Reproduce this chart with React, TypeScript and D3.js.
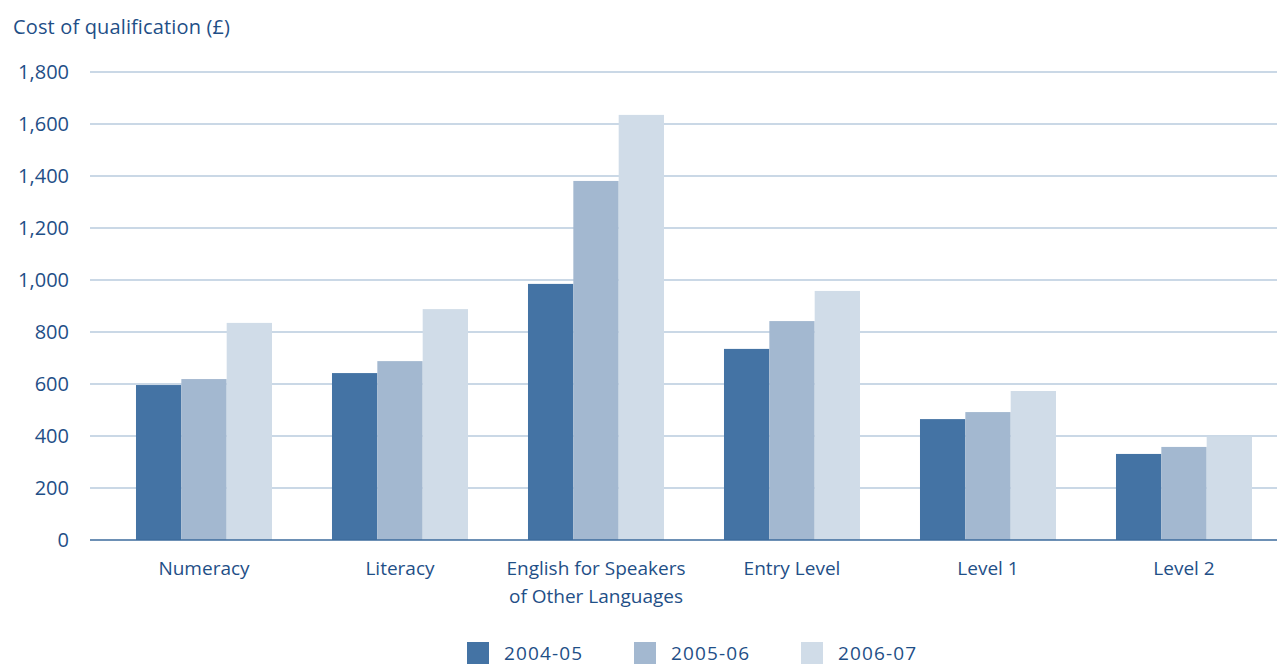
import React from "react";
import * as d3 from "d3";

const categories = ["Numeracy", "Literacy", "English for Speakers\nof Other Languages", "Entry Level", "Level 1", "Level 2"];
const seriesNames = ["2004-05", "2005-06", "2006-07"];
const values2004 = [596, 642, 985, 735, 465, 331];
const values2005 = [619, 688, 1381, 842, 492, 358];
const values2006 = [835, 888, 1635, 958, 573, 398];
const yTicks = [0, 200, 400, 600, 800, 1000, 1200, 1400, 1600, 1800];
const colors = ["#4473a4", "#a3b8d0", "#d0dce8"];

const W = 1277, H = 666;
const textColor = "#1f4f87";
const font = "'Open Sans', 'DejaVu Sans', sans-serif";

export default function App() {
  const series = [values2004, values2005, values2006];
  const y = d3.scaleLinear().domain([0, 1800]).range([540, 72]);
  const x = d3.scaleBand<string>().domain(categories).range([106, 1282]).paddingInner(0.306).paddingOuter(0.153);
  const xs = d3.scaleBand<string>().domain(seriesNames).range([0, x.bandwidth()]);
  const fmt = d3.format(",");
  return (
    <svg width={W} height={H} style={{ position: "absolute", left: 0, top: 0, background: "#fff" }} fontFamily={font}>
      <text x={13} y={34} fontSize={20} fill={textColor} textLength={217}>Cost of qualification (£)</text>
      {yTicks.map(t => (
        <g key={t}>
          {t > 0 && <line x1={90} x2={W} y1={y(t)} y2={y(t)} stroke="#b9cbde" strokeWidth={1.5} />}
          <text x={69} y={y(t)} dy="0.35em" textAnchor="end" fontSize={20} fill={textColor}>{fmt(t)}</text>
        </g>
      ))}
      {categories.map((c, i) => (
        <g key={c} transform={`translate(${x(c)},0)`}>
          {series.map((s, j) => (
            <rect key={j} x={xs(seriesNames[j])} y={y(s[i])} width={xs.bandwidth()} height={y(0) - y(s[i])} fill={colors[j]} />
          ))}
          {c.split("\n").map((line, k) => (
            <text key={k} x={x.bandwidth() / 2} y={575 + k * 28} textAnchor="middle" fontSize={19} fill={textColor}>{line}</text>
          ))}
        </g>
      ))}
      <line x1={90} x2={W} y1={y(0)} y2={y(0)} stroke="#3d6b9c" strokeWidth={1.5} />
      {seriesNames.map((s, j) => (
        <g key={s} transform={`translate(${467 + j * 167},642)`}>
          <rect x={0} y={0} width={22} height={22} fill={colors[j]} />
          <text x={37} y={18} fontSize={19} fill={textColor} textLength={78}>{s}</text>
        </g>
      ))}
    </svg>
  );
}
